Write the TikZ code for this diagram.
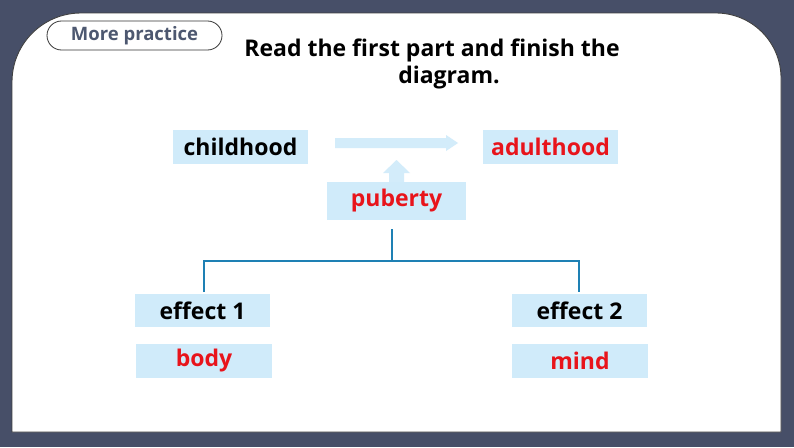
\documentclass[tikz,border=0pt]{standalone}
\usepackage{fontspec}
\setmainfont{Open Sans}
\usetikzlibrary{arrows.meta}
\definecolor{frame}{HTML}{474F68}
\definecolor{boxblue}{HTML}{D0EBFA}
\definecolor{arrowblue}{HTML}{D3ECFA}
\definecolor{linkblue}{HTML}{1E80B4}
\definecolor{pilltext}{HTML}{4D5870}
\definecolor{redtext}{HTML}{E8141B}
\tikzset{
  labelbox/.style={fill=boxblue, inner sep=0pt, font=\bfseries\fontsize{23}{26}\selectfont},
  blacktxt/.style={text=black},
  redtxt/.style={text=redtext},
  link/.style={draw=linkblue, line width=1.8pt},
  titletxt/.style={font=\bfseries\fontsize{23}{26}\selectfont, anchor=base},
}
\begin{document}
\begin{tikzpicture}[x=1pt,y=-1pt]
\useasboundingbox (0,0) rectangle (794,447);
\fill[frame] (0,0) rectangle (794,447);
% white panel
\path[fill=white, draw=black!75, line width=0.9pt]
  (12,432) -- (12,82) arc[start angle=180, end angle=270, radius=69]
  -- (716,13) arc[start angle=270, end angle=360, radius=65] -- (781,432) -- cycle;
% pill
\node[draw=black!80, line width=0.8pt, rounded corners=14.5pt, minimum width=175pt, minimum height=29pt, inner sep=0pt,
  text=pilltext, font=\bfseries\fontsize{18.5}{21}\selectfont] (pill) at (134.5,35.5) {More practice};
% title
\node[titletxt] (t1) at (432,56) {Read the first part and finish the};
\node[titletxt] (t2) at (449,83) {diagram.};
% boxes
\node[labelbox, blacktxt, minimum width=135pt, minimum height=34pt] (child) at (240.5,146.5) {childhood};
\node[labelbox, redtxt, minimum width=135pt, minimum height=34pt] (adult) at (550.5,146.5) {adulthood};
\node[labelbox, redtxt, minimum width=139pt, minimum height=38pt] (pub) at (396.5,201) {puberty};
\node[labelbox, blacktxt, minimum width=135pt, minimum height=33pt] (eff1) at (202.5,310.5) {effect 1};
\node[labelbox, redtxt, minimum width=136pt, minimum height=34pt] (body) at (204,361) {body};
\node[labelbox, blacktxt, minimum width=135pt, minimum height=33pt] (eff2) at (579.5,310.5) {effect 2};
\node[labelbox, redtxt, minimum width=136pt, minimum height=34pt] (mind) at (580,361) {mind};
% arrows
\fill[arrowblue] (335,138) -- (446,138) -- (446,135) -- (458,143) -- (446,151) -- (446,148) -- (335,148) -- cycle;
\fill[arrowblue] (389,182) -- (389,173) -- (383,173) -- (396.5,160) -- (410,173) -- (404,173) -- (404,182) -- cycle;
% links
\coordinate (j) at (392,261);
\draw[link] (392,229) -- (j);
\draw[link] (204,292) |- (j) -| (579,292);
\end{tikzpicture}
\end{document}
